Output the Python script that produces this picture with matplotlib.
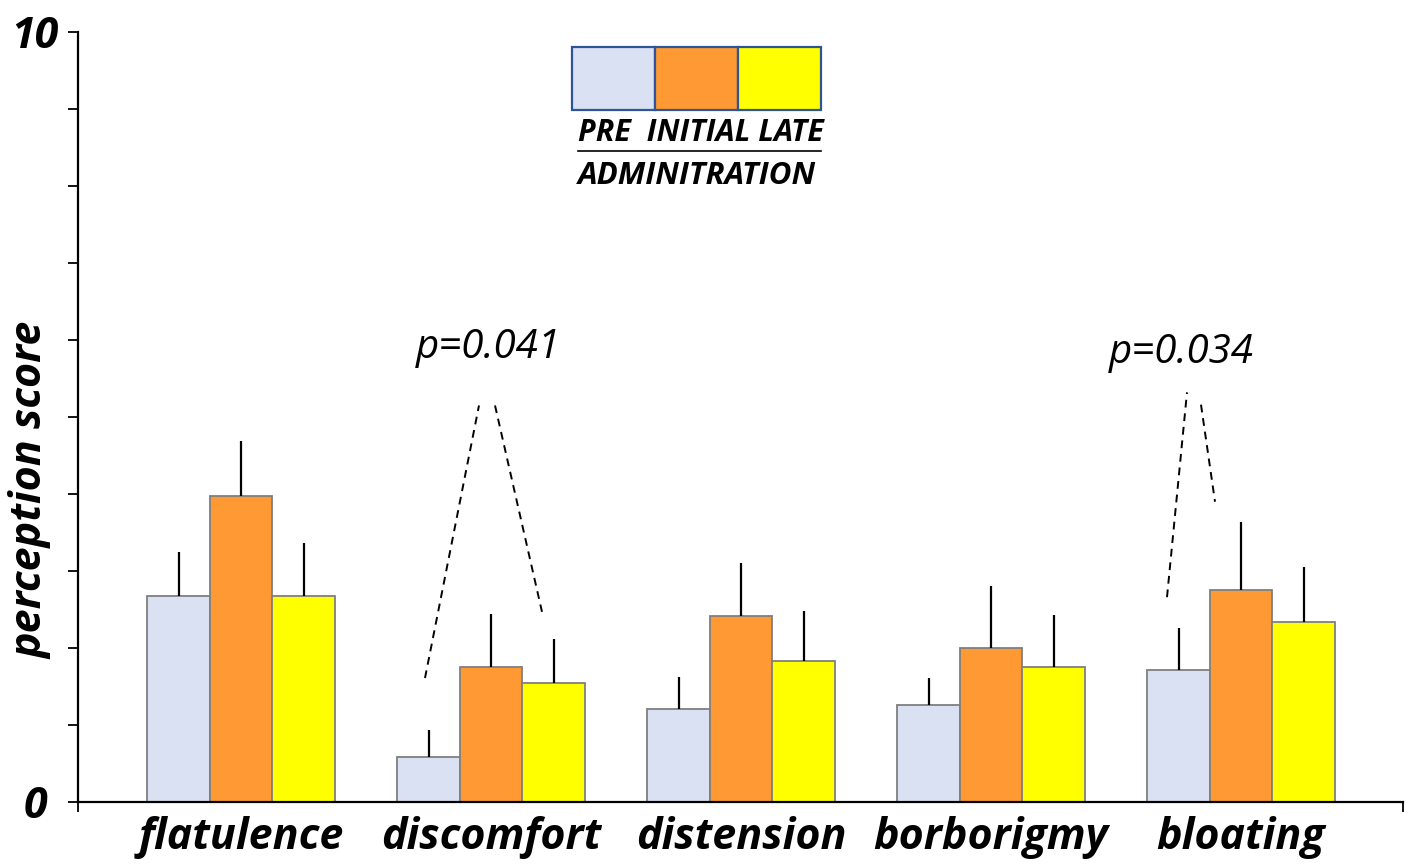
import numpy as np
import matplotlib
matplotlib.use("Agg")
import matplotlib.pyplot as plt
from matplotlib.patches import Rectangle
from matplotlib.lines import Line2D

plt.rcParams['font.family'] = ['Open Sans', 'DejaVu Sans']

categories = ['flatulence', 'discomfort', 'distension', 'borborigmy', 'bloating']
phases = ['PRE', 'INITIAL', 'LATE']

pre_mean = [2.68, 0.58, 1.21, 1.26, 1.71]
pre_err = [0.57, 0.36, 0.41, 0.35, 0.55]
initial_mean = [3.97, 1.75, 2.42, 2.00, 2.75]
initial_err = [0.72, 0.69, 0.68, 0.81, 0.89]
late_mean = [2.68, 1.55, 1.83, 1.75, 2.34]
late_err = [0.68, 0.57, 0.65, 0.68, 0.71]

colors = ['#D9E1F2', '#FF9933', '#FFFF00']

# p-value annotations: text, text position, two dashed strokes (x0, y0, x1, y1)
p_labels = ['p=0.041', 'p=0.034']
p_text_pos = [(0.99, 5.9), (3.76, 5.83)]
p_strokes = [
    [(0.736, 1.61, 0.952, 5.15), (1.016, 5.15, 1.204, 2.47)],
    [(3.704, 2.66, 3.784, 5.32), (3.84, 5.16, 3.896, 3.90)],
]

means = [pre_mean, initial_mean, late_mean]
errs = [pre_err, initial_err, late_err]

fig = plt.figure(figsize=(14.18, 8.67), dpi=100)
ax = fig.add_axes([78 / 1418, 1 - 802 / 867, (1403 - 78) / 1418, (802 - 32) / 867])

x = np.arange(len(categories))
w = 0.25
for j in range(3):
    xs = x + (j - 1) * w
    ax.bar(xs, means[j], width=w, color=colors[j], edgecolor='#7F7F7F', linewidth=1.3, zorder=2)
    ax.errorbar(xs, means[j], yerr=[np.zeros(len(x)), errs[j]], fmt='none',
                ecolor='black', elinewidth=1.6, capsize=0, zorder=3)

for lab, pos, strokes in zip(p_labels, p_text_pos, p_strokes):
    ax.text(pos[0], pos[1], lab, ha='center', va='center', fontsize=29,
            fontstyle='italic', color='black')
    for x0, y0, x1, y1 in strokes:
        ax.plot([x0, x1], [y0, y1], color='black', lw=1.4, ls=(0, (4, 3)))

ax.set_xlim(-0.652, 4.648)
ax.set_ylim(0, 10)
ax.spines['top'].set_visible(False)
ax.spines['right'].set_visible(False)
ax.spines['left'].set_linewidth(1.6)
ax.spines['bottom'].set_linewidth(1.6)

ax.set_yticks(np.arange(0, 11, 1))
ax.set_yticklabels(['0'] + [''] * 9 + ['10'])
ax.tick_params(axis='y', direction='out', length=7, width=1.3, pad=24)
for t in ax.get_yticklabels():
    t.set_fontsize(31)
    t.set_fontweight('bold')
    t.set_fontstyle('italic')
    t.set_ha('center')

ax.set_xticks(x)
ax.set_xticklabels(categories, fontsize=31, fontweight='bold', fontstyle='italic')
ax.tick_params(axis='x', length=0, pad=10)
ax.set_xticks([-0.652, 4.648], minor=True)
ax.tick_params(axis='x', which='minor', direction='out', length=7, width=1.3)

ax.set_ylabel('perception score', fontsize=31, fontweight='bold', fontstyle='italic')
ax.yaxis.set_label_coords(-0.019, 0.405)

# custom legend block
W, H = 1418.0, 867.0
box_x = [572, 655, 738]
for bx, c in zip(box_x, colors):
    fig.patches.append(Rectangle((bx / W, 1 - 110 / H), 83 / W, 63 / H, transform=fig.transFigure,
                                 facecolor=c, edgecolor='#2F5597', linewidth=1.6))
fig.text(578 / W, 1 - 133 / H, 'PRE  INITIAL LATE', fontsize=22, fontweight='bold',
         fontstyle='italic', ha='left', va='center')
fig.lines.append(Line2D([578 / W, 821 / W], [1 - 151 / H, 1 - 151 / H], transform=fig.transFigure,
                        color='black', lw=1.2))
fig.text(578 / W, 1 - 176 / H, 'ADMINITRATION', fontsize=22.5, fontweight='bold',
         fontstyle='italic', ha='left', va='center')

fig.savefig('out.png', dpi=100)
